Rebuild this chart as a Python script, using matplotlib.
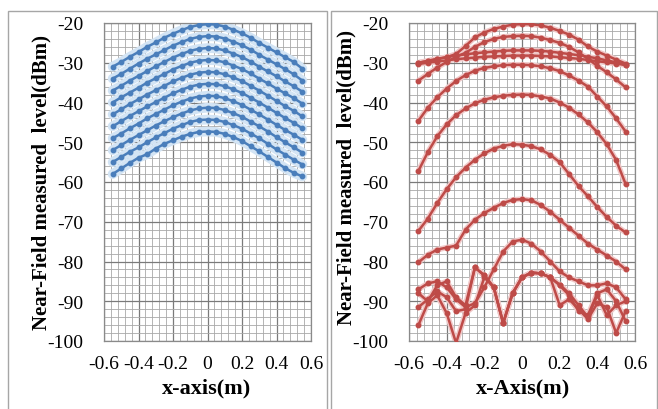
import numpy as np
import matplotlib.pyplot as plt
from matplotlib.ticker import MultipleLocator
from matplotlib.patches import Rectangle

plt.rcParams['axes.unicode_minus'] = False

# positions along the scan (m)
x_pos = [-0.55, -0.50, -0.45, -0.40, -0.35, -0.30, -0.25, -0.20, -0.15, -0.10, -0.05, 0.0,
         0.05, 0.10, 0.15, 0.20, 0.25, 0.30, 0.35, 0.40, 0.45, 0.50, 0.55]

# left chart (blue)
b1 = [-31.0, -29.8, -28.5, -27.3, -26.0, -24.9, -23.7, -22.7, -21.8, -21.0, -20.5, -20.3, -20.4, -20.9, -21.7, -22.6, -23.7, -25.0, -26.2, -27.4, -28.6, -29.8, -31.5]
b2 = [-34.0, -32.8, -31.5, -30.2, -29.0, -27.9, -26.8, -25.7, -24.8, -24.0, -23.5, -23.3, -23.4, -23.9, -24.7, -25.6, -26.7, -28.0, -29.2, -30.4, -31.6, -32.9, -34.5]
b3 = [-37.0, -35.8, -34.5, -33.3, -32.1, -30.9, -29.8, -28.7, -27.8, -27.0, -26.5, -26.3, -26.4, -26.9, -27.7, -28.6, -29.7, -31.0, -32.2, -33.4, -34.7, -35.9, -37.3]
b4 = [-40.0, -38.7, -37.5, -36.3, -35.0, -33.9, -32.8, -31.7, -30.8, -30.0, -29.5, -29.3, -29.4, -29.9, -30.7, -31.6, -32.7, -34.0, -35.2, -36.5, -37.7, -38.9, -40.3]
b5 = [-43.0, -41.7, -40.4, -39.2, -38.0, -36.9, -35.8, -34.7, -33.8, -33.0, -32.5, -32.3, -32.4, -32.9, -33.7, -34.6, -35.8, -37.0, -38.3, -39.6, -40.9, -42.1, -43.5]
b6 = [-46.0, -44.7, -43.4, -42.2, -41.0, -39.9, -38.8, -37.7, -36.8, -36.0, -35.5, -35.3, -35.4, -35.9, -36.7, -37.6, -38.8, -40.0, -41.3, -42.6, -43.9, -45.1, -46.5]
b7 = [-49.0, -47.8, -46.5, -45.3, -44.0, -42.9, -41.8, -40.7, -39.8, -39.0, -38.5, -38.3, -38.4, -38.9, -39.7, -40.6, -41.8, -43.0, -44.3, -45.6, -46.9, -48.1, -49.4]
b8 = [-52.0, -50.7, -49.4, -48.2, -47.0, -45.8, -44.7, -43.7, -42.8, -42.0, -41.5, -41.3, -41.4, -41.9, -42.7, -43.6, -44.8, -46.0, -47.3, -48.7, -50.0, -51.3, -52.6]
b9 = [-55.0, -53.7, -52.4, -51.3, -50.0, -48.8, -47.7, -46.6, -45.7, -44.9, -44.4, -44.3, -44.4, -44.9, -45.7, -46.6, -47.8, -49.0, -50.4, -51.8, -53.1, -54.4, -55.6]
b10 = [-58.0, -56.6, -55.2, -53.9, -53.0, -51.6, -50.4, -49.5, -48.6, -47.9, -47.4, -47.3, -47.4, -47.9, -48.7, -49.7, -51.0, -52.3, -53.7, -55.1, -56.5, -57.7, -58.6]

# right chart (red)
r1 = [-30.0, -29.6, -29.1, -28.6, -27.8, -25.8, -23.6, -22.4, -21.5, -20.9, -20.4, -20.3, -20.3, -20.6, -21.2, -22.0, -22.9, -24.2, -25.9, -27.2, -28.2, -29.2, -30.2]
r2 = [-34.5, -32.8, -31.2, -29.8, -28.5, -27.5, -26.0, -24.8, -24.0, -23.5, -23.3, -23.2, -23.3, -23.7, -24.3, -25.0, -26.0, -27.4, -29.0, -30.8, -32.4, -34.2, -36.2]
r3 = [-30.0, -29.5, -29.0, -28.6, -28.2, -27.9, -27.6, -27.4, -27.2, -27.0, -26.9, -26.9, -26.9, -27.0, -27.2, -27.5, -27.8, -28.1, -28.5, -28.9, -29.4, -29.9, -30.5]
r4 = [-30.3, -30.0, -29.7, -29.4, -29.1, -28.9, -28.7, -28.5, -28.4, -28.3, -28.2, -28.2, -28.2, -28.3, -28.4, -28.6, -28.8, -29.0, -29.3, -29.6, -29.9, -30.2, -30.6]
r5 = [-44.6, -41.3, -38.7, -36.5, -34.6, -33.1, -32.0, -31.3, -30.9, -30.6, -30.5, -30.5, -30.6, -30.9, -31.4, -32.1, -33.2, -34.5, -36.0, -38.5, -41.0, -44.0, -47.3]
r6 = [-57.2, -52.5, -48.5, -45.5, -43.2, -41.5, -40.2, -39.3, -38.7, -38.3, -38.1, -38.0, -38.1, -38.5, -39.0, -40.0, -41.3, -43.0, -45.0, -47.5, -50.5, -54.5, -60.5]
r7 = [-72.3, -69.2, -65.3, -61.8, -58.8, -56.4, -54.4, -52.8, -51.6, -50.9, -50.5, -50.6, -51.0, -51.8, -53.2, -55.0, -58.0, -61.0, -63.6, -66.3, -68.8, -71.0, -72.7]
r8 = [-80.2, -78.3, -77.0, -76.5, -76.0, -72.0, -69.5, -67.8, -66.5, -65.3, -64.5, -64.3, -64.6, -65.8, -67.5, -69.5, -71.5, -73.5, -75.5, -77.0, -78.5, -80.0, -82.0]
r9 = [-87.0, -85.5, -85.0, -86.5, -89.5, -91.5, -90.5, -86.5, -82.0, -77.5, -75.0, -74.5, -75.5, -77.5, -80.0, -82.5, -84.0, -85.0, -86.0, -86.0, -85.5, -86.5, -89.5]
r10 = [-91.5, -89.5, -87.5, -89.0, -92.5, -92.0, -81.5, -83.5, -86.5, -95.5, -88.0, -84.0, -82.8, -83.0, -84.0, -85.8, -88.0, -91.0, -94.0, -88.5, -93.5, -91.0, -90.0]
r11 = [-96.0, -90.5, -88.5, -93.0, -100.5, -93.0, -91.0, -84.0, -86.5, -95.5, -88.0, -84.0, -82.8, -83.0, -84.0, -91.0, -89.5, -92.0, -94.5, -90.5, -91.5, -98.0, -92.5]
r12 = [-88.0, -90.0, -86.0, -85.0, -89.0, -91.0, -81.5, -83.5, -86.5, -95.5, -88.0, -84.0, -82.8, -83.0, -84.0, -86.0, -88.5, -92.5, -93.5, -88.0, -87.0, -90.0, -95.0]

left_curves = [b1, b2, b3, b4, b5, b6, b7, b8, b9, b10]
right_curves = [r1, r2, r3, r4, r5, r6, r7, r8, r9, r10, r11, r12]

x_ticks = [-0.6, -0.4, -0.2, 0, 0.2, 0.4, 0.6]
x_ticklabels = ['-0.6', '-0.4', '-0.2', '0', '0.2', '0.4', '0.6']
y_ticks = [-100, -90, -80, -70, -60, -50, -40, -30, -20]

serif = ['Liberation Serif', 'DejaVu Serif']

fig = plt.figure(figsize=(6.58, 4.10), dpi=100)

# panel frames
fig.patches.append(Rectangle((8/658, -0.05), 319/658, 1.05 - 12/410, transform=fig.transFigure,
                             fill=False, edgecolor='#a6a6a6', lw=1.0))
fig.patches.append(Rectangle((331/658, -0.05), 326/658, 1.05 - 12/410, transform=fig.transFigure,
                             fill=False, edgecolor='#a6a6a6', lw=1.0))

ax1 = fig.add_axes([104/658, 68/410, 207/658, 318/410])
ax2 = fig.add_axes([409/658, 68/410, 226/658, 318/410])


def style(ax):
    ax.set_xlim(-0.6, 0.6)
    ax.set_ylim(-100, -20)
    ax.set_xticks(x_ticks)
    ax.set_xticklabels(x_ticklabels)
    ax.set_yticks(y_ticks)
    ax.xaxis.set_minor_locator(MultipleLocator(0.04))
    ax.yaxis.set_minor_locator(MultipleLocator(2))
    ax.grid(which='major', color='#7a7a7a', lw=0.9)
    ax.grid(which='minor', color='#a8a8a8', lw=0.6)
    ax.set_axisbelow(True)
    ax.tick_params(which='both', length=0)
    ax.tick_params(axis='y', pad=15)
    ax.tick_params(axis='x', pad=10)
    for lab in ax.get_xticklabels() + ax.get_yticklabels():
        lab.set_family(serif)
        lab.set_fontsize(14)
    for s in ax.spines.values():
        s.set_color('#8a8a8a')
        s.set_linewidth(0.9)


style(ax1)
style(ax2)

for c in left_curves:
    ax1.plot(x_pos, c, color='#d3e4f4', lw=7, solid_capstyle='round', zorder=2)
for c in left_curves:
    ax1.plot(x_pos, c, color='#4a7ebb', lw=1.8, marker='o', ms=3.2, zorder=3)

for c in right_curves:
    ax2.plot(x_pos, c, color='#f0c8c8', lw=4, solid_capstyle='round', zorder=2)
for c in right_curves:
    ax2.plot(x_pos, c, color='#be4b48', lw=1.8, marker='o', ms=3.2, zorder=3)

ylab = 'Near-Field measured  level(dBm)'
fig.text(41/658, 0.554, ylab, rotation=90, ha='center', va='center',
         family=serif, fontweight='bold', fontsize=15)
fig.text(346/658, 0.568, ylab, rotation=90, ha='center', va='center',
         family=serif, fontweight='bold', fontsize=15)
fig.text(207/658, 22/410, 'x-axis(m)', ha='center', va='center',
         family=serif, fontweight='bold', fontsize=16)
fig.text(523/658, 22/410, 'x-Axis(m)', ha='center', va='center',
         family=serif, fontweight='bold', fontsize=16)

plt.savefig('out.png', dpi=100)
